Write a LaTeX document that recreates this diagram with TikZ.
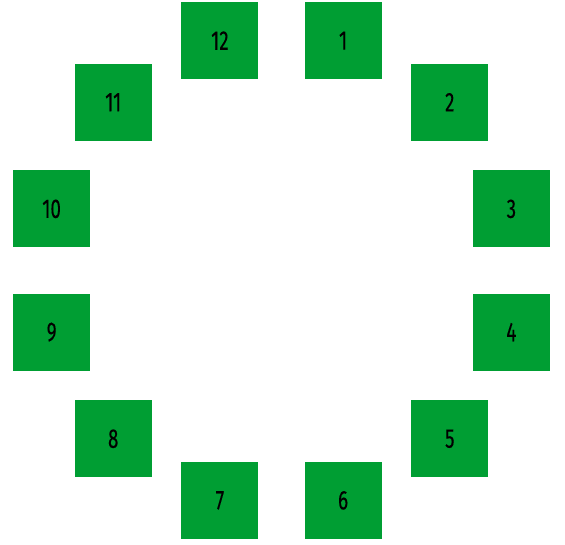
\documentclass[tikz,border=0pt]{standalone}
\usepackage{fontspec}
\usetikzlibrary{calc}
\setmainfont{Fira Sans}[FakeStretch=0.7,FakeBold=0.2]
\definecolor{boxgreen}{HTML}{009E33}
\begin{document}
\begin{tikzpicture}[x=1pt,y=1pt,
  clockbox/.style={fill=boxgreen,draw=none,minimum width=77pt,minimum height=77pt,inner sep=0pt,
    font=\fontsize{27}{29}\selectfont,text=black}]
\useasboundingbox (0,0) rectangle (565,544);
\coordinate (c) at (281.5,273.5);
\foreach \n [evaluate=\n as \ang using {90-30*\n+15}] in {1,...,12}{
  \node[clockbox] (b\n) at ($(c)+(\ang:238)$) {\n};
}
\end{tikzpicture}
\end{document}
